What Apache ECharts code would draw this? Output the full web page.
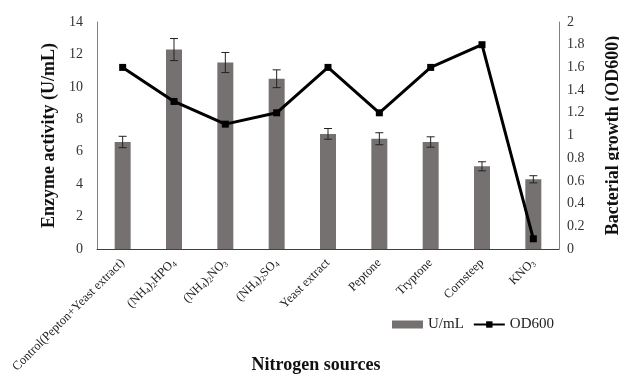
<!DOCTYPE html>
<html>
<head>
<meta charset="utf-8">
<script src="https://cdn.jsdelivr.net/npm/echarts@6/dist/echarts.min.js"></script>
<style>
  html, body { margin: 0; padding: 0; background: #fff; }
  #chart { width: 619px; height: 375px; }
</style>
</head>
<body>
<div id="chart"></div>
<script>
// Nitrogen source categories (digits in formulas are drawn as subscripts)
const categories = [
  'Control(Pepton+Yeast extract)',
  '(NH4)2HPO4',
  '(NH4)2NO3',
  '(NH4)2SO4',
  'Yeast extract',
  'Peptone',
  'Tryptone',
  'Cornsteep',
  'KNO3'
];
// Enzyme activity (U/mL) and its standard error
const activity = [6.6, 12.3, 11.5, 10.5, 7.1, 6.8, 6.6, 5.1, 4.3];
const activityErr = [0.35, 0.68, 0.62, 0.55, 0.33, 0.37, 0.32, 0.28, 0.22];
// Bacterial growth (OD600)
const od600 = [1.6, 1.3, 1.1, 1.2, 1.6, 1.2, 1.6, 1.8, 0.09];

const serif = '"Liberation Serif", "Times New Roman", serif';
const chart = echarts.init(document.getElementById('chart'));

chart.setOption({
  animation: false,
  textStyle: { fontFamily: serif },
  grid: { left: 97, right: 60, top: 22, bottom: 126, containLabel: false, outerBoundsMode: 'none' },
  legend: {
    left: 387,
    top: 312,
    itemGap: 9,
    itemWidth: 31,
    itemHeight: 8,
    textStyle: { fontFamily: serif, fontSize: 15, color: '#222' },
    data: [
      { name: 'U/mL', icon: 'rect' },
      { name: 'OD600' }
    ]
  },
  title: {
    text: 'Nitrogen sources',
    left: 316,
    top: 356,
    padding: 0,
    textAlign: 'center',
    textStyle: { fontFamily: serif, fontSize: 18, fontWeight: 'bold', color: '#111' }
  },
  xAxis: {
    type: 'category',
    data: categories,
    axisLine: { lineStyle: { color: '#404040', width: 1 } },
    axisTick: { show: false },
    axisLabel: {
      rotate: 45,
      interval: 0,
      margin: 12,
      fontSize: 12.5,
      lineHeight: 14,
      color: '#222',
      fontFamily: serif,
      formatter: v => v.replace(/\d/g, d => '{s|' + d + '}'),
      rich: {
        s: { fontSize: 8, fontFamily: serif, color: '#222', verticalAlign: 'bottom', lineHeight: 14 }
      }
    }
  },
  yAxis: [
    {
      type: 'value',
      min: 0, max: 14, interval: 2,
      name: 'Enzyme activity (U/mL)',
      nameLocation: 'middle',
      nameGap: 37,
      nameTextStyle: { fontFamily: serif, fontSize: 18, fontWeight: 'bold', color: '#111' },
      axisLine: { show: true, lineStyle: { color: '#808080' } },
      axisTick: { show: false },
      splitLine: { show: false },
      axisLabel: { fontSize: 14, color: '#333', margin: 14, fontFamily: serif }
    },
    {
      type: 'value',
      min: 0, max: 2, interval: 0.2,
      name: 'Bacterial growth (OD600)',
      nameLocation: 'middle',
      nameGap: 45,
      nameRotate: 90,
      nameTextStyle: { fontFamily: serif, fontSize: 18, fontWeight: 'bold', color: '#111' },
      axisLine: { show: true, lineStyle: { color: '#808080' } },
      axisTick: { show: false },
      splitLine: { show: false },
      axisLabel: { fontSize: 14, color: '#333', margin: 8, fontFamily: serif,
        formatter: v => String(Math.round(v * 10) / 10) }
    }
  ],
  series: [
    {
      name: 'U/mL',
      type: 'bar',
      yAxisIndex: 0,
      data: activity,
      barWidth: 16,
      itemStyle: { color: '#767171' },
      z: 2
    },
    {
      name: 'errors',
      type: 'custom',
      yAxisIndex: 0,
      data: activity.map((v, i) => [i, v - activityErr[i], v + activityErr[i]]),
      renderItem: (params, api) => {
        const lo = api.coord([api.value(0), api.value(1)]);
        const hi = api.coord([api.value(0), api.value(2)]);
        const half = 4;
        const style = { stroke: '#222', lineWidth: 1 };
        return {
          type: 'group',
          children: [
            { type: 'line', shape: { x1: lo[0], y1: lo[1], x2: hi[0], y2: hi[1] }, style },
            { type: 'line', shape: { x1: hi[0] - half, y1: hi[1], x2: hi[0] + half, y2: hi[1] }, style },
            { type: 'line', shape: { x1: lo[0] - half, y1: lo[1], x2: lo[0] + half, y2: lo[1] }, style }
          ]
        };
      },
      z: 3,
      silent: true
    },
    {
      name: 'OD600',
      type: 'line',
      yAxisIndex: 1,
      data: od600,
      symbol: 'rect',
      symbolSize: 7,
      lineStyle: { color: '#000', width: 3 },
      itemStyle: { color: '#000' },
      z: 4
    }
  ]
});
</script>
</body>
</html>
